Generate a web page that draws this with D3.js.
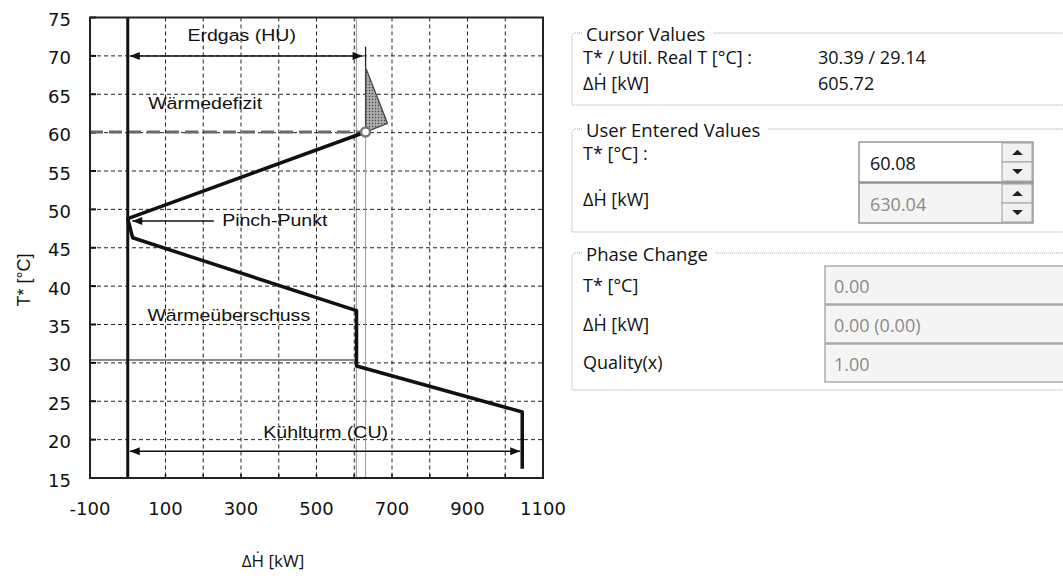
<!DOCTYPE html>
<html><head><meta charset="utf-8">
<script src="https://cdn.jsdelivr.net/npm/d3@7"></script>
<style>
html,body{margin:0;padding:0;background:#fff;}
svg{display:block;}
</style></head><body>
<svg id="chart" width="1063" height="580"></svg>
<script>
// Axis ticks
const hTickLabels = [-100, 100, 300, 500, 700, 900, 1100];
const hGrid = [-100, 0, 100, 200, 300, 400, 500, 600, 700, 800, 900, 1000, 1100];
const tTicks = [15, 20, 25, 30, 35, 40, 45, 50, 55, 60, 65, 70, 75];

// Grand composite curve (shifted temperature T* vs. net heat flow)
const gccH = [630.04, 0, 13, 606, 606, 1045, 1045];
const gccT = [60.08, 48.8, 46.3, 36.8, 29.6, 23.6, 16.2];

// Heat pocket above the user point
const pocketH = [630.04, 630.04, 688, 630.04];
const pocketT = [71.2, 68.5, 61.2, 60.08];

// Utilities
const hotUtilityH = 630.04, hotUtilityT = 70;
const coldUtilityH = 1045, coldUtilityT = 18.5;
const pinchArrowH = [228, 12], pinchArrowT = 48.5;

// Cursor / user values
const cursorT = 30.39, cursorRealT = 29.14, cursorH = 605.72;
const userT = 60.08, userH = 630.04;

// Phase change values
const phaseT = "0.00", phaseH = "0.00 (0.00)", phaseQ = "1.00";

const svg = d3.select("#chart");
const x = d3.scaleLinear().domain([-100, 1100]).range([90, 543]);
const y = d3.scaleLinear().domain([15, 75]).range([478, 17.5]);

const defs = svg.append("defs");
const pat = defs.append("pattern").attr("id", "stipple")
  .attr("width", 3).attr("height", 3).attr("patternUnits", "userSpaceOnUse");
pat.append("rect").attr("width", 3).attr("height", 3).attr("fill", "#9c9c9c");
pat.append("rect").attr("width", 1).attr("height", 1).attr("fill", "#4a4a4a");
pat.append("rect").attr("x", 1.5).attr("y", 1.5).attr("width", 1).attr("height", 1).attr("fill", "#dcdcdc");

["arrL", "arrR"].forEach((id, i) => {
  const m = defs.append("marker").attr("id", id)
    .attr("viewBox", "0 0 10 10").attr("refX", i ? 10 : 0).attr("refY", 5)
    .attr("markerWidth", 12).attr("markerHeight", 10).attr("markerUnits", "userSpaceOnUse")
    .attr("orient", "auto");
  m.append("path").attr("d", i ? "M0,1 L10,5 L0,9 Z" : "M10,1 L0,5 L10,9 Z").attr("fill", "#111");
});

const plot = svg.append("g");
const [x0, x1] = x.range();
const [yb, yt] = y.range();

// grid
plot.append("g").selectAll("line").data(hGrid.slice(1, -1).filter(d => d !== 0)).join("line")
  .attr("x1", d => x(d)).attr("x2", d => x(d)).attr("y1", yt).attr("y2", yb)
  .attr("stroke", "#222").attr("stroke-width", 1).attr("stroke-dasharray", "4,3");
plot.append("g").selectAll("line").data(tTicks.slice(1, -1)).join("line")
  .attr("x1", x0).attr("x2", x1).attr("y1", d => y(d)).attr("y2", d => y(d))
  .attr("stroke", "#222").attr("stroke-width", 1).attr("stroke-dasharray", "4,3");

// small tick marks on the frame
plot.append("g").selectAll("line").data(tTicks).join("line")
  .attr("x1", x0).attr("x2", x0 + 6).attr("y1", d => y(d)).attr("y2", d => y(d))
  .attr("stroke", "#111").attr("stroke-width", 2);
plot.append("g").selectAll("line").data(hGrid).join("line")
  .attr("x1", d => x(d)).attr("x2", d => x(d)).attr("y1", yb).attr("y2", yb - 4)
  .attr("stroke", "#111").attr("stroke-width", 1.5);

// cursor lines
plot.append("line").attr("x1", x(cursorH)).attr("x2", x(cursorH)).attr("y1", yt).attr("y2", yb)
  .attr("stroke", "#555").attr("stroke-width", 1.3).attr("stroke-dasharray", "1,1");
plot.append("line").attr("x1", x0).attr("x2", x(cursorH)).attr("y1", y(cursorT)).attr("y2", y(cursorT))
  .attr("stroke", "#8a8a8a").attr("stroke-width", 2);
plot.append("line").attr("x1", x(userH)).attr("x2", x(userH)).attr("y1", y(userT)).attr("y2", yb)
  .attr("stroke", "#999").attr("stroke-width", 1);
plot.append("line").attr("x1", x0).attr("x2", x(userH)).attr("y1", y(userT)).attr("y2", y(userT))
  .attr("stroke", "#6a6a6a").attr("stroke-width", 3).attr("stroke-dasharray", "13,6");

// zero heat-flow line
plot.append("line").attr("x1", x(0)).attr("x2", x(0)).attr("y1", yt).attr("y2", yb)
  .attr("stroke", "#111").attr("stroke-width", 3);

// heat pocket
const pocket = pocketH.map((h, i) => [h, pocketT[i]]);
plot.append("path").datum(pocket.slice(1))
  .attr("d", d => d3.line().x(p => x(p[0])).y(p => y(p[1]))(d) + "Z")
  .attr("fill", "url(#stipple)").attr("stroke", "#444").attr("stroke-width", 1.3);
plot.append("line").attr("x1", x(pocketH[0])).attr("x2", x(pocketH[1]))
  .attr("y1", y(pocketT[0])).attr("y2", y(pocketT[1])).attr("stroke", "#222").attr("stroke-width", 1.3);

// grand composite curve
const gcc = gccH.map((h, i) => [h, gccT[i]]);
plot.append("path").datum(gcc)
  .attr("d", d3.line().x(p => x(p[0])).y(p => y(p[1])))
  .attr("fill", "none").attr("stroke", "#111").attr("stroke-width", 3.5).attr("stroke-linejoin", "round");

// utility arrows
plot.append("line").attr("x1", x(0) + 2).attr("x2", x(hotUtilityH) - 3)
  .attr("y1", y(hotUtilityT)).attr("y2", y(hotUtilityT))
  .attr("stroke", "#111").attr("stroke-width", 1.5)
  .attr("marker-start", "url(#arrL)").attr("marker-end", "url(#arrR)");
plot.append("line").attr("x1", x(0) + 2).attr("x2", x(coldUtilityH) - 2)
  .attr("y1", y(coldUtilityT)).attr("y2", y(coldUtilityT))
  .attr("stroke", "#111").attr("stroke-width", 1.5)
  .attr("marker-start", "url(#arrL)").attr("marker-end", "url(#arrR)");
plot.append("line").attr("x1", x(pinchArrowH[0])).attr("x2", x(pinchArrowH[1]))
  .attr("y1", y(pinchArrowT)).attr("y2", y(pinchArrowT))
  .attr("stroke", "#111").attr("stroke-width", 1.5)
  .attr("marker-end", "url(#arrR)");

// user point marker
plot.append("circle").attr("cx", x(userH)).attr("cy", y(userT)).attr("r", 4.5)
  .attr("fill", "#fff").attr("stroke", "#777").attr("stroke-width", 2.5);

// frame
plot.append("rect").attr("x", x0).attr("y", yt).attr("width", x1 - x0).attr("height", yb - yt)
  .attr("fill", "none").attr("stroke", "#222").attr("stroke-width", 2);

// annotations
function note(txt, h, t) {
  plot.append("text").attr("transform", `translate(${x(h)},${y(t)}) scale(1.15,1)`)
    .attr("dominant-baseline", "central")
    .attr("font-family", "Liberation Sans, Arial, sans-serif").attr("font-size", 17)
    .attr("fill", "#111").text(txt);
}
note("Erdgas (HU)", 158, 72.7);
note("Wärmedefizit", 54, 63.9);
note("Pinch-Punkt", 250, 48.6);
note("Wärmeüberschuss", 52, 36.2);
note("Kühlturm (CU)", 359, 21);

// tick labels
const tickFont = "DejaVu Sans, sans-serif";
svg.append("g").selectAll("text").data(tTicks).join("text")
  .attr("x", 71).attr("y", d => y(d) + 2).attr("text-anchor", "end").attr("dominant-baseline", "central")
  .attr("font-family", tickFont).attr("font-size", 18).attr("fill", "#111").text(d => d);
svg.append("g").selectAll("text").data(hTickLabels).join("text")
  .attr("x", d => x(d)).attr("y", 508).attr("text-anchor", "middle").attr("dominant-baseline", "central")
  .attr("font-family", tickFont).attr("font-size", 18).attr("fill", "#111").text(d => d);

// axis titles
svg.append("text").attr("transform", "translate(24,280) rotate(-90)")
  .attr("text-anchor", "middle").attr("dominant-baseline", "central")
  .attr("font-family", "Liberation Sans, Arial, sans-serif").attr("font-size", 18).attr("fill", "#111")
  .text("T* [°C]");
svg.append("text").attr("x", 273).attr("y", 560)
  .attr("text-anchor", "middle").attr("dominant-baseline", "central")
  .attr("font-family", "Open Sans, sans-serif").attr("font-size", 17).attr("fill", "#111")
  .text("ΔḢ [kW]");

// ---- value panel ----
const panel = svg.append("g").attr("font-family", "Open Sans, sans-serif").attr("font-size", 18).attr("fill", "#111");
const PL = 572, PR = 1070, valX = 818;

function groupBox(title, top, bottom) {
  const t = panel.append("text").attr("x", PL + 14).attr("y", top).attr("dominant-baseline", "central")
    .attr("font-size", 18.5).text(title);
  const w = t.node().getComputedTextLength();
  panel.append("path")
    .attr("d", `M${PL + 16 + w + 6},${top} L${PR},${top} M${PL + 10},${top} L${PL + 4},${top} Q${PL},${top} ${PL},${top + 4} L${PL},${bottom} L${PR},${bottom}`)
    .attr("fill", "none").attr("stroke", "#9aa3ad").attr("stroke-width", 1).attr("stroke-dasharray", "1,1");
}
function row(txt, yy, xx = 583) {
  panel.append("text").attr("x", xx).attr("y", yy).attr("dominant-baseline", "central").text(txt);
}

groupBox("Cursor Values", 33, 105);
row("T* / Util. Real T [°C] :", 57);
row(cursorT.toFixed(2) + " / " + cursorRealT.toFixed(2), 57, valX);
row("ΔḢ [kW]", 83);
row(cursorH.toFixed(2), 83, valX);

groupBox("User Entered Values", 129, 232);
row("T* [°C] :", 153);
row("ΔḢ [kW]", 199);

function spinField(val, top, enabled) {
  const L = 859, R = 1033, H = 40, S = 1002;
  panel.append("rect").attr("x", L).attr("y", top).attr("width", R - L).attr("height", H)
    .attr("fill", enabled ? "#fff" : "#f4f4f4").attr("stroke", "#7d7d7d").attr("stroke-width", 1.2);
  panel.append("text").attr("x", L + 11).attr("y", top + H / 2 + 1).attr("dominant-baseline", "central")
    .attr("font-size", 18).attr("fill", enabled ? "#111" : "#8a8a8a").text(val);
  [0, 1].forEach(k => {
    const by = top + 1 + k * (H / 2 - 1);
    panel.append("rect").attr("x", S).attr("y", by).attr("width", R - S - 1).attr("height", H / 2 - 1)
      .attr("fill", "#f1f1f1").attr("stroke", "#a0a0a0").attr("stroke-width", 1);
    const cx = (S + R) / 2, cy = by + (H / 2 - 1) / 2;
    panel.append("path")
      .attr("d", k === 0 ? `M${cx - 4},${cy + 2} L${cx},${cy - 2} L${cx + 4},${cy + 2} Z` : `M${cx - 4},${cy - 2} L${cx},${cy + 2} L${cx + 4},${cy - 2} Z`)
      .attr("fill", "#222").attr("stroke", "#222").attr("stroke-width", 1.2);
  });
}
spinField(userT.toFixed(2), 142, true);
spinField(userH.toFixed(2), 183, false);

groupBox("Phase Change", 253, 390);
row("T* [°C]", 285);
row("ΔḢ [kW]", 324);
row("Quality(x)", 362);
[phaseT, phaseH, phaseQ].forEach((v, i) => {
  const top = 266 + i * 39;
  panel.append("rect").attr("x", 825).attr("y", top).attr("width", 260).attr("height", 38)
    .attr("fill", "#f5f5f5").attr("stroke", "#9a9a9a").attr("stroke-width", 1.2);
  panel.append("text").attr("x", 834).attr("y", top + 20).attr("dominant-baseline", "central")
    .attr("font-size", 18).attr("fill", "#8a8a8a").text(v);
});
</script>
</body></html>
